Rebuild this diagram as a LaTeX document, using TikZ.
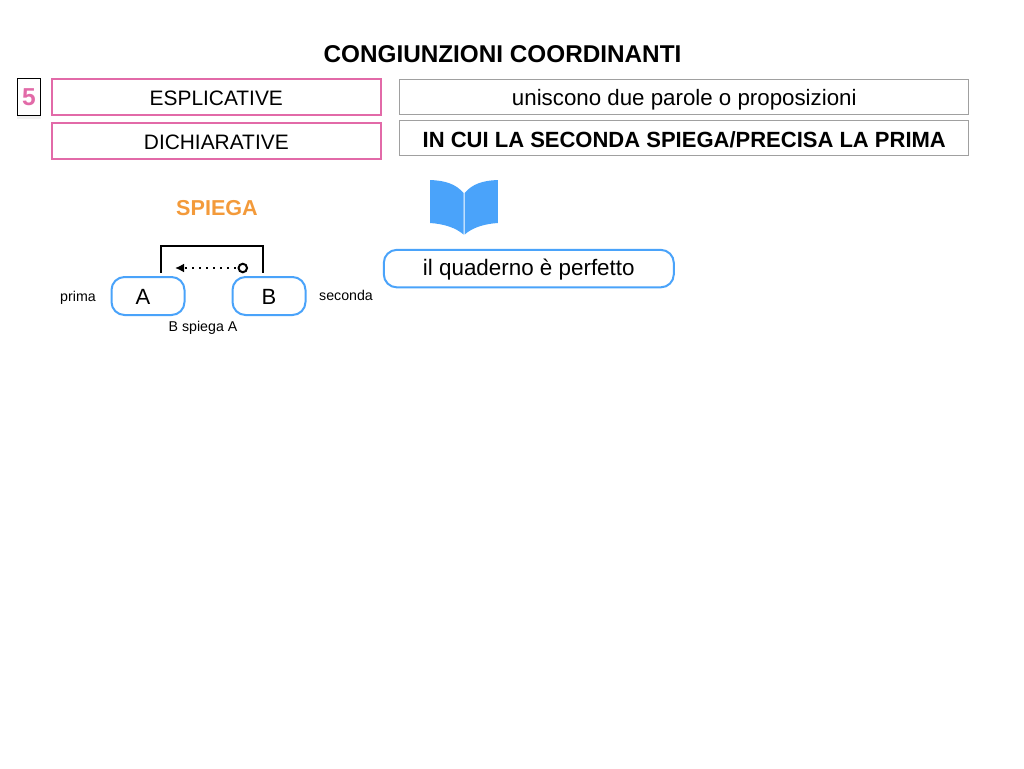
\documentclass[tikz,border=0pt]{standalone}
\usepackage{fontspec}
\setmainfont{Liberation Sans}
\usetikzlibrary{arrows.meta,shadows}
\definecolor{pinkc}{RGB}{226,106,168}
\definecolor{bluec}{RGB}{74,163,250}
\definecolor{orangec}{RGB}{243,154,58}
\definecolor{greyc}{RGB}{160,160,160}
\newcommand{\fs}[1]{\fontsize{#1}{#1}\selectfont}
\tikzset{
  x=1pt,y=-1pt,
  tb/.style={text height=#1,text depth=0pt},
  pinkbox/.style={draw=pinkc,line width=2pt,fill=white,minimum width=329.5pt,minimum height=36pt,inner sep=0pt,font=\fs{20.9}},
  greybox/.style={draw=greyc,line width=1.2pt,fill=white,minimum width=569pt,minimum height=35pt,inner sep=0pt,font=\fs{22.3}},
  bluebox/.style={draw=bluec,line width=2pt,fill=white,rounded corners=13pt,minimum height=38pt,inner sep=0pt},
  lbl/.style={inner sep=0pt,font=\fs{14.2}},
}
\begin{document}
\begin{tikzpicture}
\useasboundingbox (0,0) rectangle (1024,768);
\node[inner sep=0pt,font=\fs{24.3}\bfseries] (title) at (502.5,54) {CONGIUNZIONI COORDINANTI};
\node[draw=black,line width=0.8pt,fill=white,minimum width=23.5pt,minimum height=37pt,inner sep=0pt,text=pinkc,font=\fs{24.5}\bfseries,
  drop shadow={shadow xshift=0pt,shadow yshift=-3pt,opacity=0.12}] (num) at (29,97.2) {5};
\node[pinkbox,tb=17.4pt] (e) at (216.3,97) {ESPLICATIVE};
\node[pinkbox,tb=16.6pt] (d) at (216.3,141.3) {DICHIARATIVE};
\node[greybox,tb=17.8pt] (u) at (684.3,96.8) {uniscono due parole o proposizioni};
\node[greybox,tb=17.6pt,font=\fs{22}\bfseries] (i) at (684.3,138.2) {IN CUI LA SECONDA SPIEGA/PRECISA LA PRIMA};
\node[inner sep=0pt,text=orangec,font=\fs{21.6}\bfseries] (sp) at (217,208.5) {SPIEGA};
\node[bluebox,minimum width=73pt] (a) at (148,296) {};
\node[inner sep=0pt,font=\fs{22}] (al) at (143,296.5) {A};
\node[bluebox,minimum width=73pt] (b) at (269,296) {};
\node[inner sep=0pt,font=\fs{22}] (bl) at (269,296.5) {B};
\node[lbl,tb=10pt] (pr) at (78,296.5) {prima};
\node[lbl,tb=10pt] (se) at (346,295.5) {seconda};
\node[lbl,tb=10pt] (bs) at (203,326.5) {B spiega A};
\coordinate (la) at (161,272.7);
\coordinate (lb) at (262.8,272.7);
\draw[black,line width=2pt] (la) -- (161,245.7) -- (262.8,245.7) -- (lb);
\node[circle,draw=black,line width=2pt,inner sep=0pt,minimum size=8.5pt] (o) at (242.8,268) {};
\coordinate (tip) at (175,268);
\draw[black,line width=2pt,dash pattern=on 2pt off 5pt,shorten <=2pt,-{Latex[length=9pt,width=9pt]}] (o) -- (tip);
\fill[bluec] (430,180) .. controls (445,180.5) and (456,184) .. (463.5,193) -- (463.5,234.5) .. controls (456,228) and (445,224) .. (430,223) -- cycle;
\fill[bluec] (497.8,180) .. controls (483,180.5) and (472,184) .. (464.7,193) -- (464.7,234.5) .. controls (472,228) and (483,224) .. (497.8,223) -- cycle;
\node[bluebox,minimum width=290pt,font=\fs{22.4},tb=13.2pt,minimum height=37.5pt] (q) at (528.8,268.6) {il quaderno è perfetto};
\end{tikzpicture}
\end{document}
